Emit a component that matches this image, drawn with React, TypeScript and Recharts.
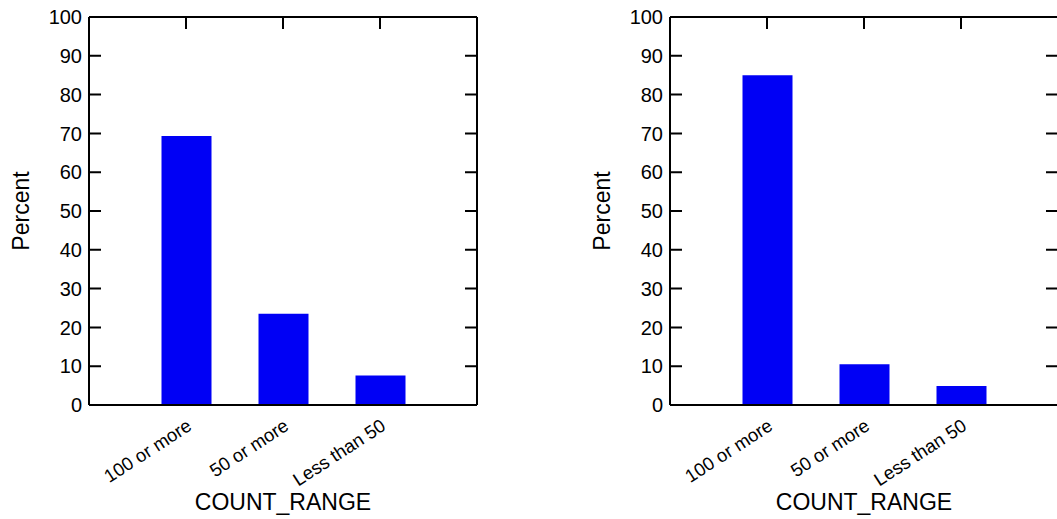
import { BarChart, Bar, XAxis, YAxis, CartesianGrid } from "recharts";

const categories = ["100 or more", "50 or more", "Less than 50"];
const leftPercent = [69.3, 23.5, 7.6];
const rightPercent = [85.0, 10.5, 4.9];
const percentTicks = [0, 10, 20, 30, 40, 50, 60, 70, 80, 90, 100];

const FONT = "'Liberation Sans', Arial, Helvetica, sans-serif";
const BAR_BLUE = "#0000f5";
const FRAME = { stroke: "#000", strokeWidth: 2 };
const CHART_W = 581;
const CHART_H = 519;
// plot box inside each panel
const PLOT_LEFT = 89;
const PLOT_TOP = 17;
const PLOT_W = 388;
const TICK_LEN = 12;

const toRows = (values: number[]) => categories.map((name, i) => ({ name, percent: values[i] }));

const TopTick = (props: any) => {
    const { x } = props;
    return <line x1={x} x2={x} y1={PLOT_TOP} y2={PLOT_TOP + TICK_LEN} stroke="#000" strokeWidth={2} />;
};

const CategoryTick = (props: any) => {
    const { x, y, payload } = props;
    const ax = x + 7;
    const ay = y + 24;
    return (
        <text
            x={ax}
            y={ay}
            transform={`rotate(-33, ${ax}, ${ay})`}
            textAnchor="end"
            fontSize={18.5}
            fill="#000"
            fontFamily={FONT}
        >
            {payload.value}
        </text>
    );
};

const PercentPanel = ({ values }: { values: number[] }) => (
    <BarChart
        width={CHART_W}
        height={CHART_H}
        data={toRows(values)}
        margin={{ top: PLOT_TOP, right: CHART_W - PLOT_LEFT - PLOT_W, bottom: 0, left: 0 }}
        barCategoryGap={0}
    >
        {/* dashed grid = short inward ticks on both the left and right frame */}
        <CartesianGrid
            xAxisId="bottom"
            yAxisId="left"
            vertical={false}
            stroke="#000"
            strokeWidth={2}
            strokeDasharray={`${TICK_LEN} ${PLOT_W - 2 * TICK_LEN}`}
        />
        <XAxis
            xAxisId="bottom"
            dataKey="name"
            height={114}
            padding={{ left: 48.5, right: 48.5 }}
            tickLine={false}
            tickSize={0}
            tickMargin={0}
            axisLine={FRAME}
            tick={<CategoryTick />}
            interval={0}
            label={{
                value: "COUNT_RANGE",
                position: "insideBottom",
                offset: 9,
                fontSize: 23,
                fill: "#000",
                fontFamily: FONT,
            }}
        />
        <XAxis
            xAxisId="top"
            orientation="top"
            dataKey="name"
            height={1}
            mirror
            padding={{ left: 48.5, right: 48.5 }}
            tickLine={false}
            tick={<TopTick />}
            axisLine={FRAME}
            interval={0}
        />
        <YAxis
            yAxisId="left"
            width={PLOT_LEFT}
            domain={[0, 100]}
            ticks={percentTicks}
            interval={0}
            tickLine={false}
            tickSize={0}
            tickMargin={7}
            axisLine={FRAME}
            tick={{ fontSize: 20, fill: "#000", fontFamily: FONT }}
            label={{
                value: "Percent",
                angle: -90,
                position: "insideLeft",
                offset: 21,
                fontSize: 23,
                fill: "#000",
                fontFamily: FONT,
                style: { textAnchor: "middle" },
            }}
        />
        <YAxis
            yAxisId="right"
            orientation="right"
            width={1}
            mirror
            domain={[0, 100]}
            ticks={percentTicks}
            tickLine={false}
            tick={false}
            axisLine={FRAME}
        />
        <Bar
            xAxisId="bottom"
            yAxisId="left"
            dataKey="percent"
            fill={BAR_BLUE}
            barSize={50}
            isAnimationActive={false}
        />
    </BarChart>
);

export default function App() {
    return (
        <div
            style={{
                position: "absolute",
                left: 0,
                top: 0,
                width: 1057,
                height: 519,
                overflow: "hidden",
                background: "#fff",
                fontFamily: FONT,
            }}
        >
            <div style={{ position: "absolute", left: 0, top: 0 }}>
                <PercentPanel values={leftPercent} />
            </div>
            <div style={{ position: "absolute", left: 581, top: 0 }}>
                <PercentPanel values={rightPercent} />
            </div>
        </div>
    );
}
